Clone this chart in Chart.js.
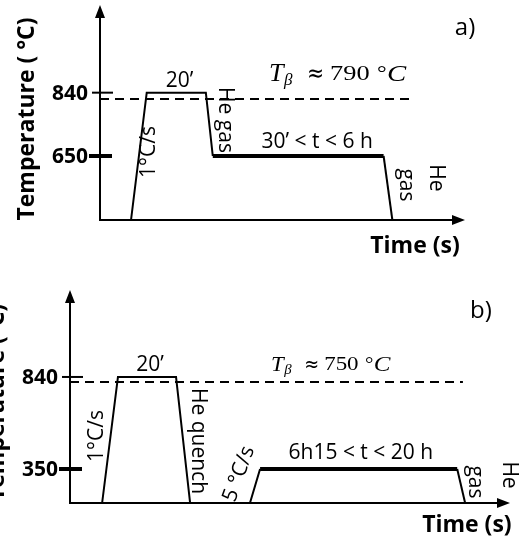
<!DOCTYPE html>
<html>
<head>
<meta charset="utf-8">
<script src="https://cdn.jsdelivr.net/npm/chart.js@4.4.1/dist/chart.umd.min.js"></script>
<style>
  html, body { margin: 0; padding: 0; background: #fff; }
  #wrap { position: relative; width: 526px; height: 544px; overflow: hidden; }
  canvas { position: absolute; left: 0; }
  #chartA { top: 0; }
  #chartB { top: 262px; }
</style>
</head>
<body>
<div id="wrap">
  <canvas id="chartA" width="526" height="262"></canvas>
  <canvas id="chartB" width="526" height="282"></canvas>
</div>
<script>
// Panel a) : solution treatment then hold at 650 °C (schematic time units)
const timeA = [8.5, 12.8, 29.0, 30.9, 77.7, 80.1];
const tempA = [458, 840, 840, 650, 650, 458];
const ticksA = [840, 650];
const betaLevelA = 821;      // drawn level of the T_beta dashed line
const betaLabelA = '790';
const notesA = ['20’', '1°C/s', 'He gas', '30’ < t < 6 h', 'gas', 'He'];

// Panel b) : solution treatment, quench, then hold at 350 °C
const timeB = [7.3, 10.9, 24.1, 27.3, 40.9, 43.2, 88.0, 89.8];
const tempB = [169, 840, 840, 169, 169, 350, 350, 169];
const ticksB = [840, 350];
const betaLevelB = 813;
const betaLabelB = '750';
const notesB = ['20’', '1°C/s', 'He quench', '5 °C/s', '6h15 < t < 20 h', 'gas', 'He'];

const SANS = "'Open Sans', 'DejaVu Sans', sans-serif";
const SERIF = "'Liberation Serif', 'DejaVu Serif', serif";

function drawAxes(ctx, area) {
  const { left, right, top, bottom } = area;
  ctx.save();
  ctx.strokeStyle = '#000';
  ctx.fillStyle = '#000';
  ctx.lineWidth = 2;
  ctx.beginPath();
  ctx.moveTo(left, bottom);
  ctx.lineTo(left, top + 10);
  ctx.moveTo(left - 1, bottom);
  ctx.lineTo(right - 10, bottom);
  ctx.stroke();
  ctx.beginPath();
  ctx.moveTo(left, top);
  ctx.lineTo(left - 5, top + 13);
  ctx.lineTo(left + 5, top + 13);
  ctx.closePath();
  ctx.moveTo(right, bottom);
  ctx.lineTo(right - 13, bottom - 5);
  ctx.lineTo(right - 13, bottom + 5);
  ctx.closePath();
  ctx.fill();
  ctx.restore();
}

// T_beta ≈ xxx °C, laid out piece by piece like the math font of the original
function drawTBeta(ctx, x0, y0, k, value) {
  const pieces = [
    ['T', 'italic 25px ' + SERIF, 0, 0, 1.05],
    ['β', 'italic 17px ' + SERIF, 15, 6, 1],
    ['≈', "24px 'DejaVu Sans', sans-serif", 38, 0, 0.85],
    [value, '22px ' + SERIF, 61, 0, 1.2],
    ['°', '22px ' + SERIF, 108, 0, 1.1],
    ['C', 'italic 24px ' + SERIF, 118, 0, 1.2]
  ];
  pieces.forEach(([txt, font, dx, dy, sx]) => {
    ctx.save();
    ctx.translate(x0 + dx * k, y0 + dy * k);
    ctx.scale(sx * k, k);
    ctx.font = font;
    ctx.textAlign = 'left';
    ctx.textBaseline = 'middle';
    ctx.fillStyle = '#000';
    ctx.fillText(txt, 0, 0);
    ctx.restore();
  });
}

function overlay(cfg) {
  return {
    id: 'overlay' + cfg.name,
    afterDraw(chart) {
      const ctx = chart.ctx;
      const xs = chart.scales.x, ys = chart.scales.y;
      const area = chart.chartArea;
      drawAxes(ctx, area);

      // temperature ticks crossing the axis
      cfg.ticks.forEach((v, i) => {
        const y = ys.getPixelForValue(v);
        const thick = cfg.tickStyle[i] === 'thick';
        ctx.save();
        ctx.strokeStyle = '#000';
        ctx.lineWidth = thick ? 4 : 2;
        ctx.beginPath();
        ctx.moveTo(area.left - (thick ? 11 : 8), y);
        ctx.lineTo(area.left + (thick ? 12 : 13), y);
        ctx.stroke();
        ctx.font = 'bold 21px ' + SANS;
        ctx.fillStyle = '#000';
        ctx.textAlign = 'right';
        ctx.textBaseline = 'middle';
        ctx.fillText(String(v), area.left - 12, y + 1);
        ctx.restore();
      });

      // annotations
      cfg.notes.forEach(n => {
        ctx.save();
        ctx.translate(xs.getPixelForValue(n.x), ys.getPixelForValue(n.y));
        ctx.rotate((n.rot || 0) * Math.PI / 180);
        ctx.font = n.font || ('21px ' + SANS);
        ctx.fillStyle = '#000';
        ctx.textAlign = 'center';
        ctx.textBaseline = 'middle';
        ctx.fillText(n.text, 0, 0);
        ctx.restore();
      });

      drawTBeta(ctx, xs.getPixelForValue(cfg.betaPos[0]), ys.getPixelForValue(cfg.betaPos[1]), cfg.betaScale, cfg.betaLabel);
    }
  };
}

function makeChart(id, cfg) {
  return new Chart(document.getElementById(id), {
    type: 'line',
    data: {
      datasets: [
        {
          data: cfg.time.map((t, i) => ({ x: t, y: cfg.temp[i] })),
          borderColor: '#000',
          borderWidth: 2,
          pointRadius: 0,
          tension: 0,
          clip: false,
          order: 0,
          segment: { borderWidth: c => (c.p0DataIndex === cfg.hold ? 4 : 2) }
        },
        {
          data: [{ x: 0, y: cfg.beta }, { x: cfg.betaEnd, y: cfg.beta }],
          borderColor: '#000',
          borderWidth: 2,
          borderDash: [9, 6],
          pointRadius: 0,
          clip: false,
          order: 1
        }
      ]
    },
    options: {
      responsive: false,
      animation: false,
      devicePixelRatio: 1,
      layout: { padding: cfg.pad },
      plugins: { legend: { display: false }, tooltip: { enabled: false } },
      scales: {
        x: { type: 'linear', min: 0, max: 100, display: false },
        y: { type: 'linear', min: cfg.yMin, max: cfg.yMax, display: false }
      }
    },
    plugins: [overlay(cfg)]
  });
}

makeChart('chartA', {
  name: 'A', time: timeA, temp: tempA, hold: 3,
  beta: betaLevelA, betaEnd: 86.2, betaLabel: betaLabelA, betaPos: [46.3, 894.6], betaScale: 1,
  ticks: ticksA, tickStyle: ['thin', 'thick'],
  yMin: 458, yMax: 1103,
  pad: { left: 100, right: 61, top: 5, bottom: 42 },
  notes: [
    { text: notesA[0], x: 21.8, y: 876 },
    { text: notesA[1], x: 13.3, y: 662, rot: -90 },
    { text: notesA[2], x: 34.2, y: 758, rot: 90 },
    { text: notesA[3], x: 59.5, y: 691 },
    { text: notesA[4], x: 83.8, y: 563, rot: 90 },
    { text: notesA[5], x: 92.1, y: 584, rot: 90 },
    { text: 'a)', x: 100, y: 1034, font: '24px ' + SANS },
    { text: 'Time (s)', x: 86.3, y: 380, font: 'bold 23px ' + SANS },
    { text: 'Temperature ( °C)', x: -19.9, y: 761, rot: -90, font: 'bold 23px ' + SANS }
  ]
});

makeChart('chartB', {
  name: 'B', time: timeB, temp: tempB, hold: 5,
  beta: betaLevelB, betaEnd: 89.3, betaLabel: betaLabelB, betaPos: [45.7, 902], betaScale: 0.87,
  ticks: ticksB, tickStyle: ['thin', 'thick'],
  yMin: 169, yMax: 1303,
  pad: { left: 70, right: 16, top: 28, bottom: 41 },
  notes: [
    { text: notesB[0], x: 18.2, y: 904 },
    { text: notesB[1], x: 6.1, y: 526, rot: -90 },
    { text: notesB[2], x: 29.1, y: 499, rot: 90 },
    { text: notesB[3], x: 38.4, y: 323, rot: -70 },
    { text: notesB[4], x: 66.1, y: 435 },
    { text: notesB[5], x: 92.0, y: 281, rot: 90 },
    { text: notesB[6], x: 99.8, y: 318, rot: 90 },
    { text: 'b)', x: 93.4, y: 1192, font: '24px ' + SANS },
    { text: 'Time (s)', x: 90.2, y: 52, font: 'bold 23px ' + SANS },
    { text: 'Temperature (°C)', x: -16.4, y: 704, rot: -90, font: 'bold 23px ' + SANS }
  ]
});
</script>
</body>
</html>
